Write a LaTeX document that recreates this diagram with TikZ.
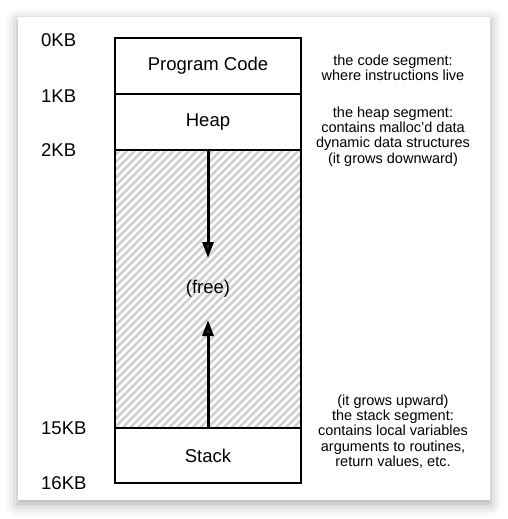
\documentclass[tikz,border=0pt]{standalone}
\usepackage{fontspec}
\setmainfont{Liberation Sans}
\usetikzlibrary{arrows.meta, positioning, patterns.meta, shadows.blur}

\begin{document}
\begin{tikzpicture}[x=1pt, y=-1pt,
		seg/.style={draw, line width=1.5pt, minimum width=186pt, inner sep=0pt, font=\fontsize{18.5}{20}\selectfont},
		addr/.style={anchor=west, inner sep=0pt, font=\fontsize{18.5}{20}\selectfont},
		note/.style={align=center, inner sep=0pt, font=\fontsize{14.5}{15.2}\selectfont},
		growarrow/.style={line width=3pt, -{Triangle[width=11pt,length=16pt]}}]
				\useasboundingbox (0,0) rectangle (508,519);
				\fill[white, blur shadow={shadow xshift=0pt, shadow yshift=-4pt, shadow blur radius=12pt, shadow opacity=35}] (18,17) rectangle (490,500);

				\node[seg, minimum height=278pt, pattern={Lines[angle=45,distance=5.5pt,line width=2.6pt]}, pattern color=gray!38] (free) at (208,289) {(free)};
				\node[seg, minimum height=56pt] (code) at (208,66) {Program Code};
				\node[seg, minimum height=56pt] (heap) at (208,122) {Heap};
				\node[seg, minimum height=55pt] (stack) at (208,455.5) {Stack};

				\coordinate (heapend) at (208,258);
				\coordinate (stackend) at (208,320);
				\draw[growarrow] (free.north) -- (heapend);
				\draw[growarrow] (free.south) -- (stackend);

				\node[addr] (kb0) at (41,40) {0KB};
				\node[addr] (kb1) at (41,96) {1KB};
				\node[addr] (kb2) at (41,150.5) {2KB};
				\node[addr] (kb15) at (41,428.5) {15KB};
				\node[addr] (kb16) at (41,483.5) {16KB};

				\node[note] (codenote) at (393,67.5) {the code segment:\\where instructions live};
				\node[note] (heapnote) at (393,136.5) {the heap segment:\\contains malloc'd data\\dynamic data structures\\(it grows downward)};
				\node[note] (stacknote) at (393,431.5) {(it grows upward)\\the stack segment:\\contains local variables\\arguments to routines,\\return values, etc.};

			\end{tikzpicture}
\end{document}
